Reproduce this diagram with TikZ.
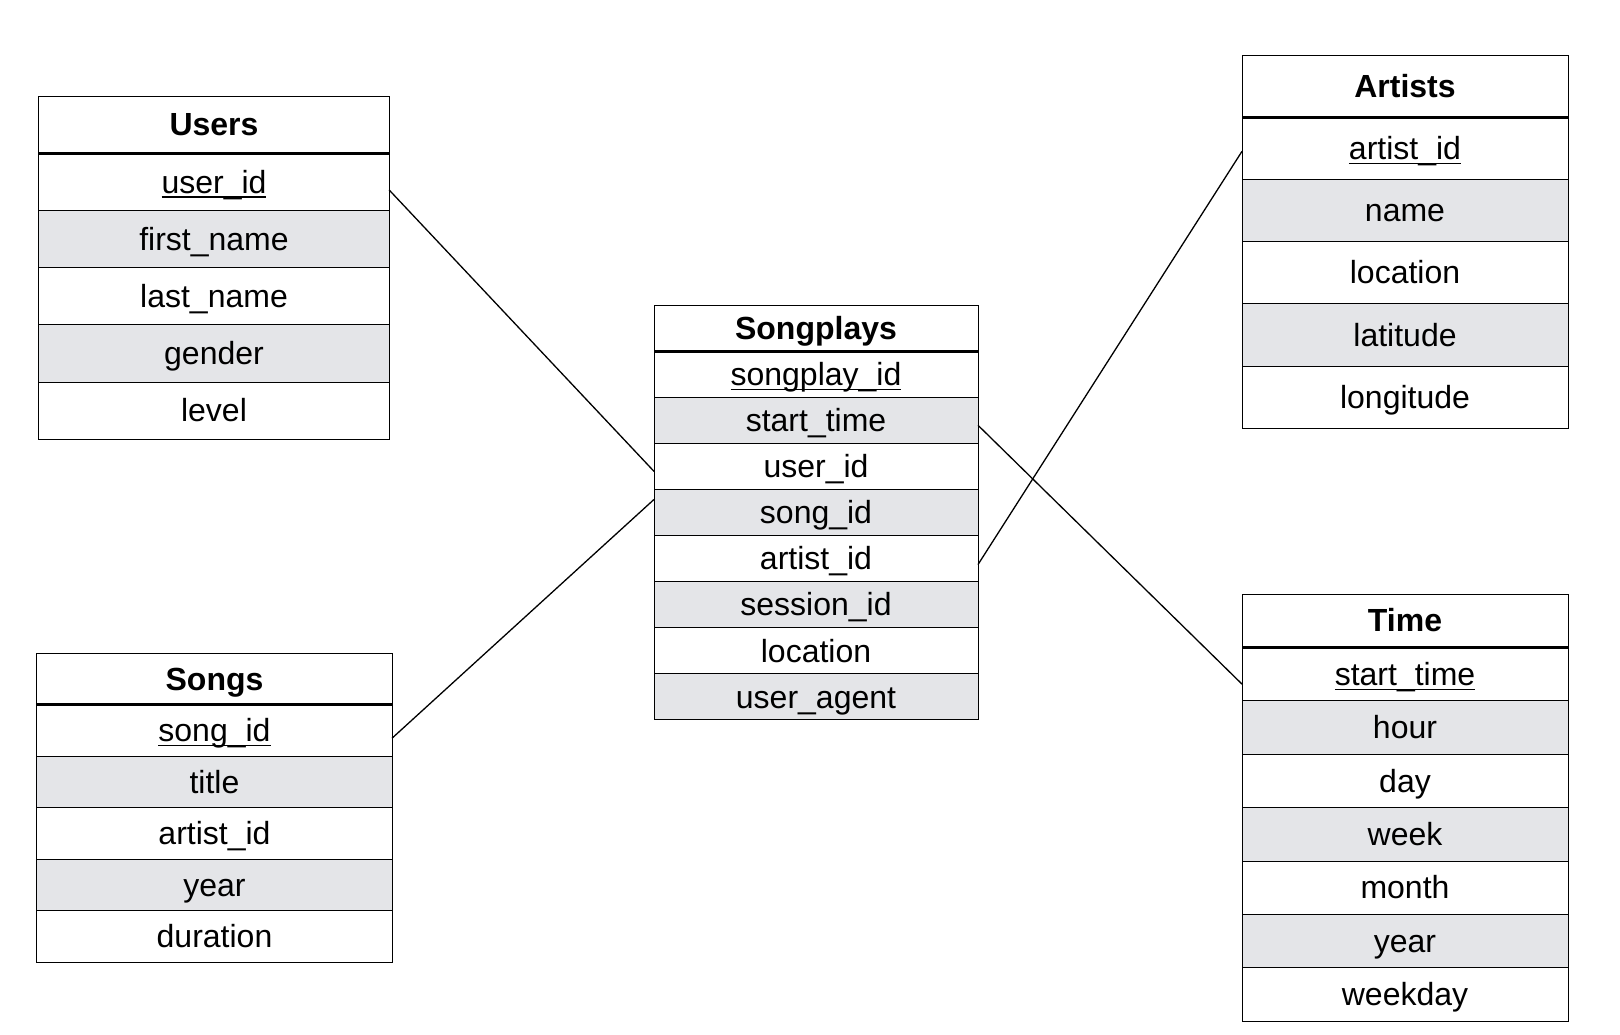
\documentclass[tikz,border=0pt]{standalone}
\usepackage{fontspec}
\setmainfont{Liberation Sans}
\usetikzlibrary{matrix, positioning}

\definecolor{rowgray}{RGB}{228,229,232}
% primary key: line sits at the underscore level
\newcommand{\keyattr}[1]{\setbox0\hbox{#1}\rlap{\rule[-4.5pt]{\wd0}{1.3pt}}\box0}

\begin{document}
\begin{tikzpicture}[x=1pt, y=1pt,
                entity/.style 2 args={matrix of nodes, anchor=north west, inner sep=0pt,
                                      line width=1pt, row sep=-\pgflinewidth,
                                      nodes={draw, line width=1pt, fill=white, inner sep=0pt, outer sep=0pt,
                                             font=\fontsize{32}{37}\selectfont, text height=22.5pt, text depth=0pt,
                                             minimum width=#1, minimum height=#2}},
                title/.style={font=\fontsize{32}{37}\selectfont\bfseries},
                shade/.style={fill=rowgray},
                headline/.style={line width=3pt},
                link/.style={line width=1.3pt}]

                \useasboundingbox (0,0) rectangle (1620,-1034);
                \fill[white] (0,0) rectangle (1620,-1034);

                % Dimension tables - left side
                \matrix[entity={350pt}{57.2pt}] (users) at (38,-95) {
                    |[title]| Users \\
                    \keyattr{user\_id} \\
                    |[shade]| first\_name \\
                    last\_name \\
                    |[shade]| gender \\
                    level \\
                };

                \matrix[entity={355pt}{51.5pt}] (songs) at (36,-652) {
                    |[title]| Songs \\
                    \keyattr{song\_id} \\
                    |[shade]| title \\
                    artist\_id \\
                    |[shade]| year \\
                    duration \\
                };

                % Fact table - middle
                \matrix[entity={324pt}{46.1pt}] (songplays) at (653,-304) {
                    |[title]| Songplays \\
                    \keyattr{songplay\_id} \\
                    |[shade]| start\_time \\
                    user\_id \\
                    |[shade]| song\_id \\
                    artist\_id \\
                    |[shade]| session\_id \\
                    location \\
                    |[shade]| user\_agent \\
                };

                % Dimension tables - right side
                \matrix[entity={326pt}{62.2pt}] (artists) at (1241,-54) {
                    |[title]| Artists \\
                    \keyattr{artist\_id} \\
                    |[shade]| name \\
                    location \\
                    |[shade]| latitude \\
                    longitude \\
                };

                \matrix[entity={326pt}{53.4pt}] (time) at (1241,-593) {
                    |[title]| Time \\
                    \keyattr{start\_time} \\
                    |[shade]| hour \\
                    day \\
                    |[shade]| week \\
                    month \\
                    |[shade]| year \\
                    weekday \\
                };

                % Thick rule under each title
                \foreach \tbl in {users, songs, songplays, artists, time}
                    \draw[headline] (\tbl-1-1.south west) -- (\tbl-1-1.south east);

                % Key links
                \draw[link] ([yshift=-8pt]users-2-1.east) -- ([yshift=-5pt]songplays-4-1.west);
                \draw[link] ([yshift=-8pt]songs-2-1.east) -- ([yshift=13pt]songplays-5-1.west);
                \draw[link] ([yshift=-6pt]songplays-6-1.east) -- ([yshift=-3pt]artists-2-1.west);
                \draw[link] ([yshift=-5pt]songplays-3-1.east) -- ([yshift=-10pt]time-2-1.west);
\end{tikzpicture}
\end{document}
